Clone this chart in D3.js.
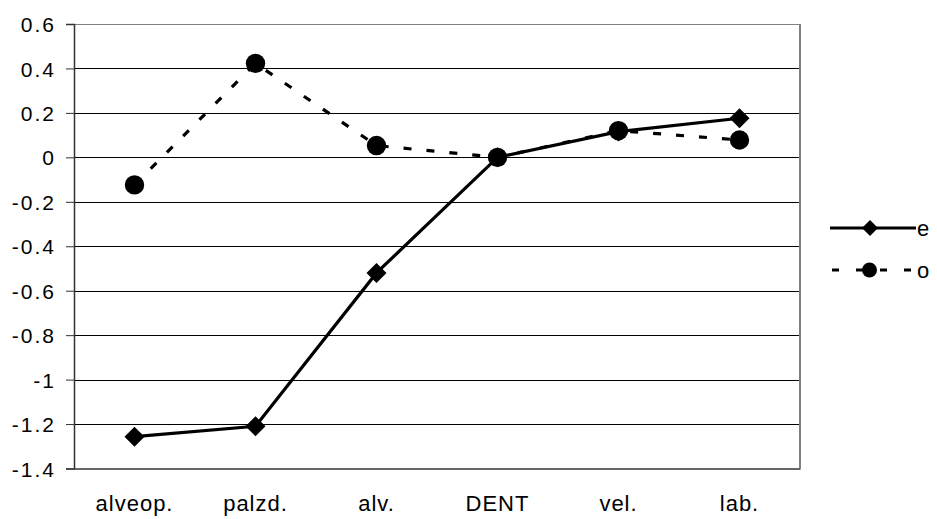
<!DOCTYPE html>
<html><head><meta charset="utf-8">
<script src="https://cdn.jsdelivr.net/npm/d3@7"></script>
<style>body{margin:0;background:#fff}svg{display:block;font-family:"Liberation Sans",Arial,sans-serif}</style>
</head><body><svg id="c" width="937" height="519"></svg>
<script>
const categories = ["alveop.", "palzd.", "alv.", "DENT", "vel.", "lab."];
const seriesE = [-1.257, -1.21, -0.52, 0, 0.116, 0.176];
const seriesO = [-0.124, 0.423, 0.053, 0, 0.12, 0.078];
const yTicks = [0.6, 0.4, 0.2, 0, -0.2, -0.4, -0.6, -0.8, -1, -1.2, -1.4];
const legendNames = ["e", "o"];

const svg = d3.select("#c");
const L = 74, R = 800, T = 24, B = 468.5;
const x = d3.scaleBand().domain(categories).range([L, R]);
const y = d3.scaleLinear().domain([-1.4, 0.6]).range([B, T]);
const cx = d => x(d) + x.bandwidth() / 2;
const FONT = "Liberation Sans, Arial, sans-serif";

// gridlines
svg.append("g").selectAll("line").data(yTicks.filter(v => v > -1.4 && v < 0.6)).join("line")
  .attr("x1", L).attr("x2", R).attr("y1", d => Math.round(y(d)) + 0.5).attr("y2", d => Math.round(y(d)) + 0.5)
  .attr("stroke", "#000").attr("stroke-width", 1);
// plot border top/right gray
svg.append("line").attr("x1", L).attr("x2", R).attr("y1", T + 0.5).attr("y2", T + 0.5).attr("stroke", "#808080");
svg.append("line").attr("x1", R).attr("x2", R).attr("y1", T).attr("y2", B).attr("stroke", "#808080").attr("stroke-width", 2);

// y axis
const yAxis = d3.axisLeft(y).tickValues(yTicks).tickSize(8).tickPadding(10).tickFormat(d => String(d));
const gy = svg.append("g").attr("transform", `translate(${L},0)`).call(yAxis);
gy.select(".domain").attr("stroke", "#333").attr("stroke-width", 1.5);
gy.selectAll(".tick line").attr("stroke", "#333");
gy.selectAll("text").attr("font-size", 21).attr("letter-spacing", 2).attr("font-family", FONT).attr("fill", "#000").attr("dy", "0.36em");

// x axis
const xAxis = d3.axisBottom(x).tickSize(0).tickPadding(27);
const gx = svg.append("g").attr("transform", `translate(0,${B})`).call(xAxis);
gx.select(".domain").attr("stroke", "#333").attr("stroke-width", 1.5);
gx.selectAll("text").attr("font-size", 22).attr("letter-spacing", 1).attr("font-family", FONT).attr("fill", "#000");

const line = d3.line().x((d, i) => cx(categories[i])).y(d => y(d));
const diamondPath = s => `M0,${-s}L${s},0L0,${s}L${-s},0Z`;

// series o (dashed)
svg.append("path").datum(seriesO).attr("d", line).attr("fill", "none")
  .attr("stroke", "#000").attr("stroke-width", 3.2).attr("stroke-dasharray", "8,15");
svg.append("g").selectAll("circle").data(seriesO).join("circle")
  .attr("cx", (d, i) => cx(categories[i])).attr("cy", d => y(d)).attr("r", 9.7).attr("fill", "#000");

// series e (solid)
svg.append("path").datum(seriesE).attr("d", line).attr("fill", "none")
  .attr("stroke", "#000").attr("stroke-width", 3.2);
svg.append("g").selectAll("path").data(seriesE).join("path")
  .attr("d", diamondPath(10))
  .attr("transform", (d, i) => `translate(${cx(categories[i])},${y(d)})`).attr("fill", "#000");

// legend
const lg = svg.append("g").attr("font-family", FONT);
lg.append("line").attr("x1", 830).attr("x2", 916).attr("y1", 228).attr("y2", 228).attr("stroke", "#000").attr("stroke-width", 3.2);
lg.append("path").attr("d", diamondPath(8)).attr("transform", "translate(870,228)");
lg.append("text").attr("x", 917).attr("y", 235.5).attr("font-size", 22).text(legendNames[0]);
lg.append("line").attr("x1", 832).attr("x2", 916).attr("y1", 270).attr("y2", 270).attr("stroke", "#000").attr("stroke-width", 3.2).attr("stroke-dasharray", "7,17");
lg.append("circle").attr("cx", 869.5).attr("cy", 270).attr("r", 7.5);
lg.append("text").attr("x", 917).attr("y", 277.5).attr("font-size", 22).text(legendNames[1]);
</script></body></html>
